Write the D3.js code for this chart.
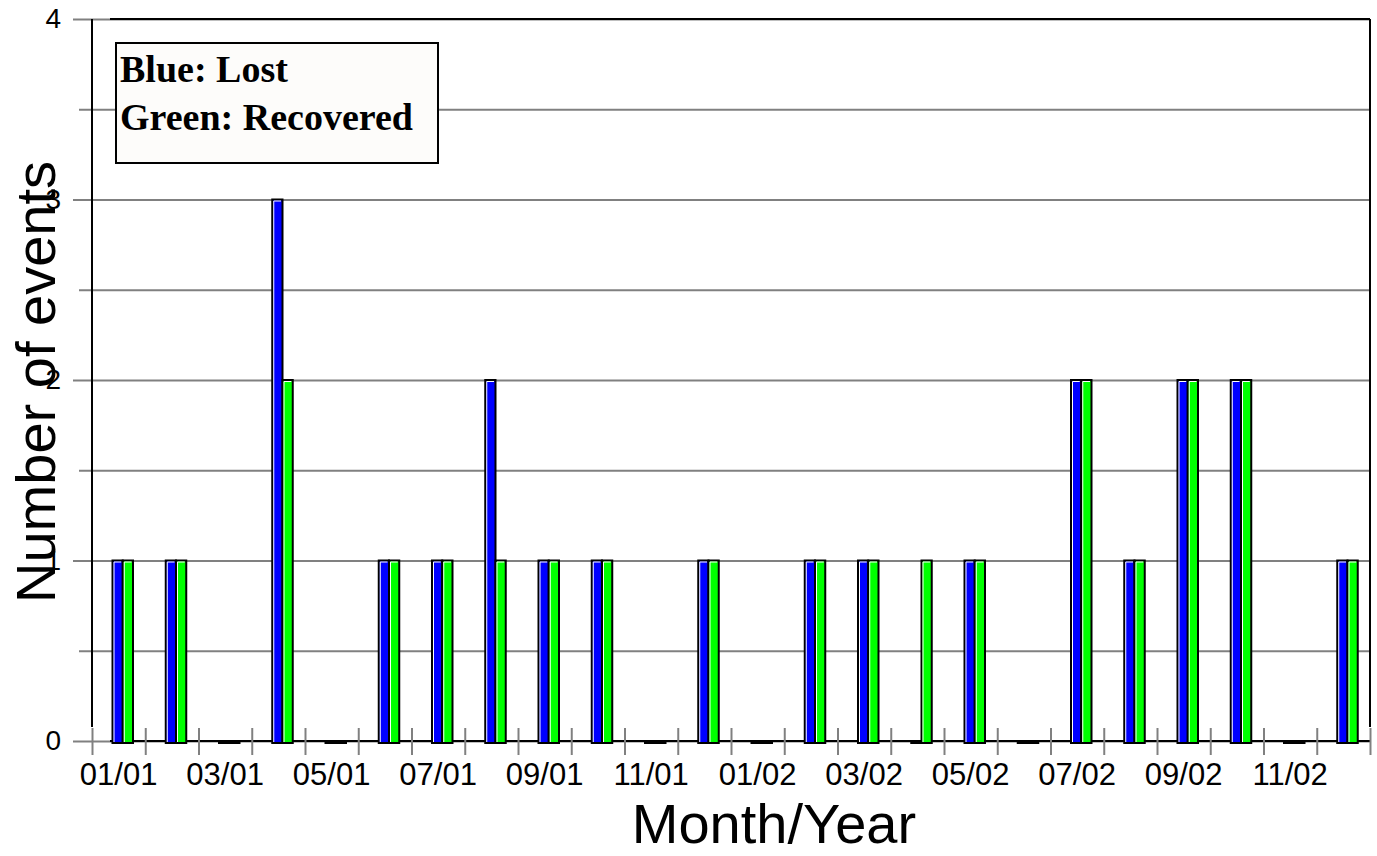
<!DOCTYPE html>
<html>
<head>
<meta charset="utf-8">
<script src="https://cdn.jsdelivr.net/npm/d3@7"></script>
<style>
  body { margin: 0; background: #fff; }
  svg { display: block; font-family: "Liberation Sans", Arial, sans-serif; }
</style>
</head>
<body>
<script>
var months = ["01/01", "02/01", "03/01", "04/01", "05/01", "06/01", "07/01", "08/01", "09/01", "10/01", "11/01", "12/01",
              "01/02", "02/02", "03/02", "04/02", "05/02", "06/02", "07/02", "08/02", "09/02", "10/02", "11/02", "12/02"];
var lost      = [1, 1, 0, 3, 0, 1, 1, 2, 1, 1, 0, 1, 0, 1, 1, 0, 1, 0, 2, 1, 2, 2, 0, 1];
var recovered = [1, 1, 0, 2, 0, 1, 1, 1, 1, 1, 0, 1, 0, 1, 1, 1, 1, 0, 2, 1, 2, 2, 0, 1];
var yTicks = [0, 1, 2, 3, 4];
var yMinorTicks = [0.5, 1.5, 2.5, 3.5];
var xLabels = ["01/01", "03/01", "05/01", "07/01", "09/01", "11/01", "01/02", "03/02", "05/02", "07/02", "09/02", "11/02"];
var legendLines = ["Blue: Lost", "Green: Recovered"];

var W = 1377, H = 856;
var plot = {left: 92, right: 1370, top: 19, bottom: 741};

var svg = d3.select("body").append("svg")
            .attr("width", W)
            .attr("height", H);

var x0 = d3.scaleBand().domain(months).range([plot.left, plot.right]);
var bw = x0.bandwidth();
var x1 = d3.scaleBand().domain(["lost", "recovered"]).range([0.385 * bw, 0.77 * bw]);
var xi = d3.scaleLinear().domain([0, months.length]).range([plot.left, plot.right]);
var y = d3.scaleLinear().domain([0, 4]).range([plot.bottom, plot.top]);

// major gridlines + labels
var gy = svg.append("g")
    .attr("transform", "translate(73,0)")
    .call(d3.axisLeft(y).tickValues(yTicks).tickSize(-(plot.right - 73)).tickPadding(12).tickFormat(d3.format("d")));
gy.select(".domain").remove();
gy.selectAll("line").attr("stroke", "#808080").attr("stroke-width", 2);
gy.selectAll("text").attr("font-size", 28).attr("fill", "#000");

// minor gridlines
var gm = svg.append("g")
    .attr("transform", "translate(79,0)")
    .call(d3.axisLeft(y).tickValues(yMinorTicks).tickSize(-(plot.right - 79)).tickFormat(""));
gm.select(".domain").remove();
gm.selectAll("line").attr("stroke", "#808080").attr("stroke-width", 2);

// frame
var frame = svg.append("g").attr("stroke", "#000").attr("stroke-width", 2);
frame.append("line").attr("x1", 110).attr("x2", plot.right).attr("y1", plot.top).attr("y2", plot.top);
frame.append("line").attr("x1", 110).attr("x2", plot.right).attr("y1", plot.bottom).attr("y2", plot.bottom);
frame.append("line").attr("x1", plot.left).attr("x2", plot.left).attr("y1", plot.top).attr("y2", 727);
frame.append("line").attr("x1", plot.right).attr("x2", plot.right).attr("y1", plot.top).attr("y2", 727);

// month boundary ticks
var gt = svg.append("g")
    .attr("transform", "translate(0," + plot.bottom + ")")
    .call(d3.axisBottom(xi).tickValues(d3.range(months.length + 1)).tickSize(14).tickFormat(""));
gt.select(".domain").remove();
gt.selectAll("line").attr("y1", -13).attr("stroke", "#808080").attr("stroke-width", 2);

// month labels
var gx = svg.append("g")
    .attr("transform", "translate(0," + plot.bottom + ")")
    .call(d3.axisBottom(x0).tickValues(xLabels).tickSize(0).tickPadding(22));
gx.select(".domain").remove();
gx.selectAll("text").attr("font-size", 31).attr("fill", "#000");

// bars
var rows = months.map(function(m, i) {
    return [{key: "lost", month: m, value: lost[i]}, {key: "recovered", month: m, value: recovered[i]}];
});
var colors = {lost: "#0000ff", recovered: "#00ff00"};

var groups = svg.append("g").selectAll("g")
    .data(rows)
    .join("g")
    .attr("transform", function(d) { return "translate(" + x0(d[0].month) + ",0)"; });

var bars = groups.selectAll("g")
    .data(function(d) { return d; })
    .join("g");

bars.append("rect")
    .attr("x", function(d) { return x1(d.key); })
    .attr("y", function(d) { return y(d.value); })
    .attr("width", x1.bandwidth())
    .attr("height", function(d) { return y(0) - y(d.value) + 2; })
    .attr("fill", function(d) { return d.value > 0 ? colors[d.key] : "#000"; })
    .attr("stroke", "#000")
    .attr("stroke-width", 2);

// light edge on left and top
bars.filter(function(d) { return d.value > 0; })
    .append("path")
    .attr("d", function(d) {
        var bx = x1(d.key) + 1.5, by = y(d.value) + 1.5, bw2 = x1.bandwidth() - 3;
        return "M" + bx + "," + (y(0) + 1) + "V" + by + "H" + (bx + bw2);
    })
    .attr("fill", "none")
    .attr("stroke", "#fff")
    .attr("stroke-width", 1);

// legend
svg.append("rect")
    .attr("x", 116).attr("y", 43)
    .attr("width", 322).attr("height", 120)
    .attr("fill", "#fdfcfa")
    .attr("stroke", "#000")
    .attr("stroke-width", 2);

svg.append("g").selectAll("text")
    .data(legendLines)
    .join("text")
    .attr("x", 120)
    .attr("y", function(d, i) { return 81.5 + i * 48.5; })
    .attr("font-family", "'Liberation Serif', 'Times New Roman', serif")
    .attr("font-weight", "bold")
    .attr("font-size", 38)
    .text(function(d) { return d; });

// axis titles
svg.append("text")
    .attr("x", 774)
    .attr("y", 843)
    .attr("text-anchor", "middle")
    .attr("font-size", 56)
    .text("Month/Year");

svg.append("text")
    .attr("transform", "translate(55,382) rotate(-90)")
    .attr("text-anchor", "middle")
    .attr("font-size", 56)
    .text("Number of events");
</script>
</body>
</html>
